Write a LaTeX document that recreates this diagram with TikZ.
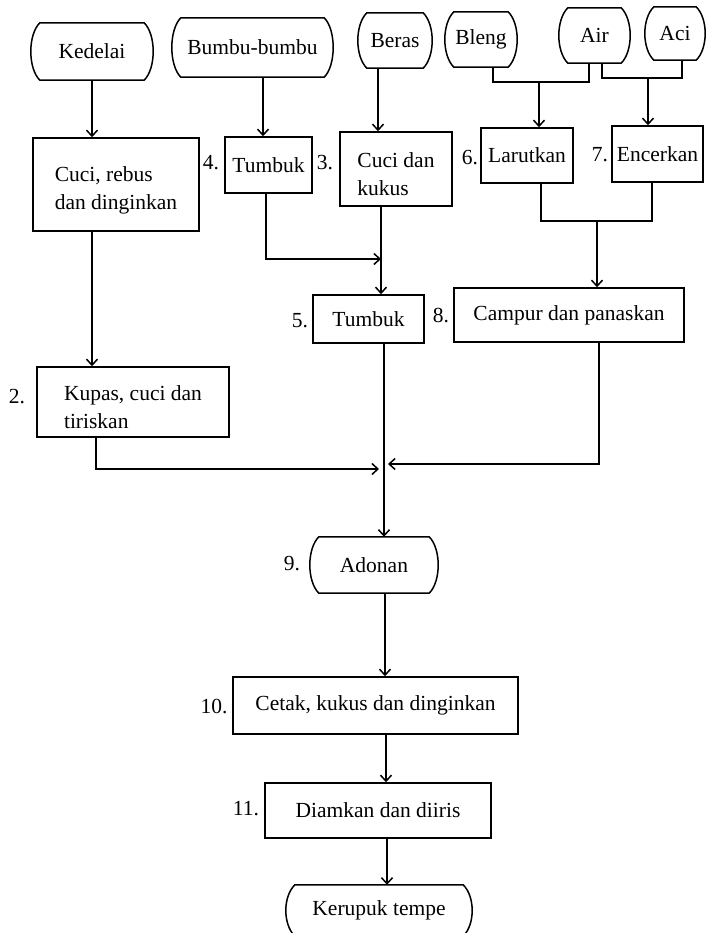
\documentclass[tikz,border=0pt]{standalone}
\usepackage{fontspec}
\setmainfont{Liberation Serif}
\usetikzlibrary{arrows.meta}
\newcommand\termoutline[1]{\draw[ln] ([xshift=9pt]#1.north west) -- ([xshift=-9pt]#1.north east)
  .. controls ([xshift=3pt,yshift=-12pt]#1.north east) and ([xshift=3pt,yshift=12pt]#1.south east) .. ([xshift=-9pt]#1.south east)
  -- ([xshift=9pt]#1.south west)
  .. controls ([xshift=-3pt,yshift=12pt]#1.south west) and ([xshift=-3pt,yshift=-12pt]#1.north west) .. cycle;}
\newcommand\lowerstrut{\rule{0pt}{26pt}}
\tikzset{
  ln/.style={line width=1.5pt},
  arr/.style={ln, -{Straight Barb[length=6pt,width=11pt]}},
  txt/.style={inner sep=0pt, font=\fontsize{21.5}{28}\selectfont},
  box/.style={txt, draw, ln, align=left},
  term/.style={txt},
  num/.style={txt}
}
\begin{document}
\begin{tikzpicture}[x=1pt,y=-1pt]
\clip (0,0) rectangle (710,933);
\useasboundingbox (0,0) rectangle (710,933);
% terminals
\node[term, minimum width=122pt, minimum height=57pt] (kedelai) at (92,51.5) {Kedelai};
\node[term, minimum width=161pt, minimum height=59pt] (bumbu) at (252.5,47.5) {Bumbu-bumbu};
\node[term, minimum width=74pt, minimum height=55pt] (beras) at (395,40.5) {Beras};
\node[term, minimum width=72pt, minimum height=55pt] (bleng) at (481,39.5) {Bleng};
\node[term, minimum width=71pt, minimum height=55pt] (air) at (594.5,35.5) {Air};
\node[term, minimum width=60pt, minimum height=53pt] (aci) at (675,33.5) {Aci};
\node[term, minimum width=128pt, minimum height=56pt] (adonan) at (374,565) {Adonan};
\node[term, minimum width=186pt, minimum height=51pt] (kerupuk) at (379,910.5) {Kerupuk tempe};
\foreach \t in {kedelai,bumbu,beras,bleng,air,aci,adonan,kerupuk}{\termoutline{\t}}
% process boxes
\node[box, minimum width=166pt, minimum height=93pt] (rebus) at (116,184.5) {\lowerstrut Cuci, rebus\\dan dinginkan};
\node[box, minimum width=87pt, minimum height=56pt] (tumbuk4) at (268.5,165) {Tumbuk};
\node[box, minimum width=112pt, minimum height=74pt] (kukus) at (396,169) {\lowerstrut Cuci dan\\kukus};
\node[box, minimum width=92pt, minimum height=55pt] (larutkan) at (527,155.5) {Larutkan};
\node[box, minimum width=91pt, minimum height=56pt] (encerkan) at (657.5,154) {Encerkan};
\node[box, minimum width=111pt, minimum height=48pt] (tumbuk5) at (368.5,319) {Tumbuk};
\node[box, minimum width=230pt, minimum height=54pt] (campur) at (569,315) {Campur dan panaskan};
\node[box, minimum width=192pt, minimum height=70pt] (kupas) at (133,402) {\lowerstrut Kupas, cuci dan\\tiriskan};
\node[box, minimum width=285pt, minimum height=57pt] (cetak) at (375.5,705.5) {Cetak, kukus dan dinginkan};
\node[box, minimum width=226pt, minimum height=55pt] (diamkan) at (378,810.5) {Diamkan dan diiris};
% step numbers
\node[num] (n4) at (211,163) {4.};
\node[num] (n3) at (325,163) {3.};
\node[num] (n6) at (470,158) {6.};
\node[num] (n7) at (600,155) {7.};
\node[num] (n5) at (300,321) {5.};
\node[num] (n8) at (441,316) {8.};
\node[num] (n2) at (17,397) {2.};
\node[num] (n9) at (292,564) {9.};
\node[num] (n10) at (214,706) {10.};
\node[num] (n11) at (246,809) {11.};
% junction points
\coordinate (bj) at (539,82);
\coordinate (aj) at (648,78);
\coordinate (cj) at (597,221);
\coordinate (m1) at (381,259);
\coordinate (m2) at (379,469);
\coordinate (m3) at (388,464);
% connectors
\draw[arr] (kedelai.south) -- (kedelai.south |- rebus.north);
\draw[arr] ([xshift=10.5pt]bumbu.south) -- ([xshift=10.5pt]bumbu.south |- tumbuk4.north);
\draw[arr] ([xshift=-17pt]beras.south) -- ([xshift=-17pt]beras.south |- kukus.north);
\draw[ln] ([xshift=12pt]bleng.south) |- (bj) -| ([xshift=-5.5pt]air.south);
\draw[arr] (bj) -- (bj |- larutkan.north);
\draw[ln] ([xshift=7.5pt]air.south) |- (aj) -| ([xshift=7pt]aci.south);
\draw[arr] (aj) -- (aj |- encerkan.north);
\draw[ln] ([xshift=14pt]larutkan.south) |- (cj) -| ([xshift=-5.5pt]encerkan.south);
\draw[arr] (cj) -- (cj |- campur.north);
\draw[arr] ([xshift=-24pt]rebus.south) -- ([xshift=-24pt]rebus.south |- kupas.north);
\draw[arr] ([xshift=-2.5pt]tumbuk4.south) |- (m1);
\draw[arr] ([xshift=-15pt]kukus.south) -- ([xshift=-15pt]kukus.south |- tumbuk5.north);
\draw[arr] ([xshift=15.5pt]tumbuk5.south) -- ([xshift=15.5pt]tumbuk5.south |- adonan.north);
\draw[arr] ([xshift=-37pt]kupas.south) |- (m2);
\draw[arr] ([xshift=30pt]campur.south) |- (m3);
\draw[arr] ([xshift=11pt]adonan.south) -- ([xshift=11pt]adonan.south |- cetak.north);
\draw[arr] ([xshift=10.5pt]cetak.south) -- ([xshift=10.5pt]cetak.south |- diamkan.north);
\draw[arr] ([xshift=9pt]diamkan.south) -- ([xshift=9pt]diamkan.south |- kerupuk.north);
\end{tikzpicture}
\end{document}
